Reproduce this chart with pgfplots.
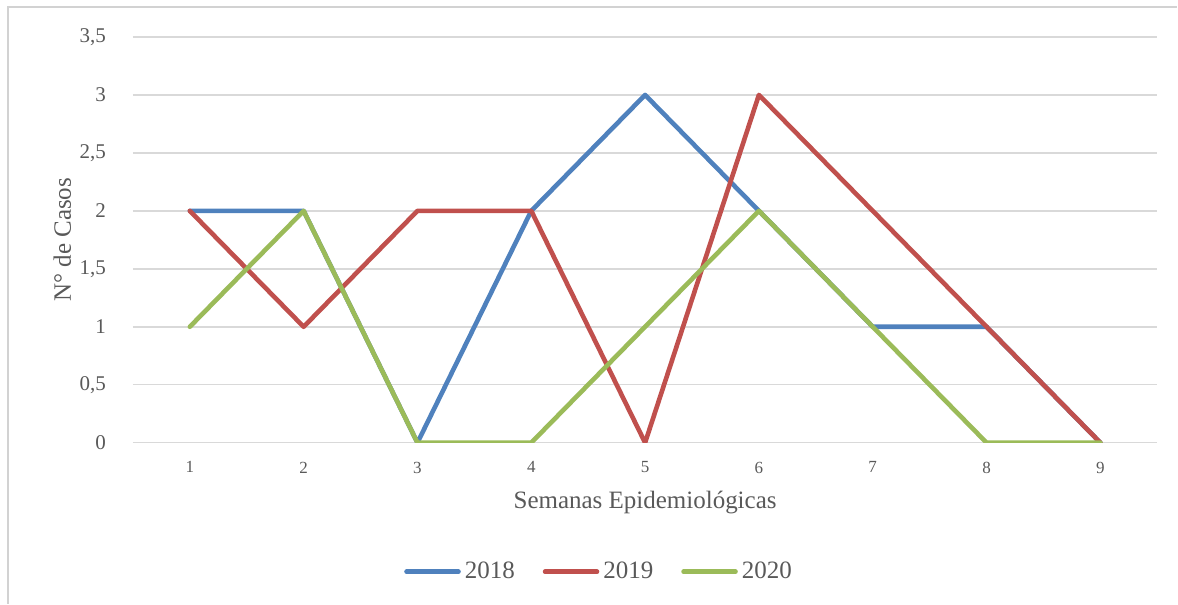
\documentclass[border=0pt]{standalone}
\usepackage{pgfplots}
\pgfplotsset{compat=1.18}
\usetikzlibrary{calc}
\usepackage{fontspec}
\setmainfont{Liberation Serif}
\definecolor{c18}{HTML}{4F81BD}
\definecolor{c19}{HTML}{C0504D}
\definecolor{c20}{HTML}{9BBB59}
\definecolor{gridc}{HTML}{D9D9D9}
\definecolor{txt}{HTML}{595959}
\begin{document}
\begin{tikzpicture}
\begin{axis}[
  scale only axis,
  width=512.5pt, height=203pt,
  xmin=0.5, xmax=9.5, ymin=0, ymax=3.5,
  xtick={1,...,9},
  ytick={0,0.5,...,3.5},
  /pgf/number format/assume math mode=true,
  /pgf/number format/use comma,
  /pgf/number format/fixed,
  ymajorgrids, grid style={gridc, line width=0.75pt},
  axis x line*=bottom, axis y line*=left,
  x axis line style={gridc, line width=0.75pt, -},
  y axis line style={draw=none},
  major tick length=0pt,
  tick style={draw=none},
  xticklabel style={font=\fontsize{8.5}{10}\selectfont, text=txt, yshift=-6pt},
  yticklabel style={font=\fontsize{10.5}{12}\selectfont, text=txt},
  yticklabel shift=10pt,
  xlabel={Semanas Epidemiológicas},
  ylabel={N° de Casos},
  xlabel style={font=\fontsize{12.5}{14}\selectfont, text=txt, yshift=-2pt},
  ylabel style={font=\fontsize{12.5}{14}\selectfont, text=txt, at={(-0.069,0.5)}, anchor=center},
  legend style={at={(0.456,-0.318)}, anchor=center, draw=none, fill=none,
    legend columns=3, font=\fontsize{12.5}{14}\selectfont, text=txt,
    /tikz/every even column/.append style={column sep=12pt}},
  legend image code/.code={\draw[#1, line cap=round] (0pt,0pt) -- (26pt,0pt);},
  every axis plot/.append style={line width=2.3pt, line join=round, line cap=round, mark=none},
]
\addplot[c18] coordinates {(1,2)(2,2)(3,0)(4,2)(5,3)(6,2)(7,1)(8,1)(9,0)};
\addplot[c19] coordinates {(1,2)(2,1)(3,2)(4,2)(5,0)(6,3)(7,2)(8,1)(9,0)};
\addplot[c20] coordinates {(1,1)(2,2)(3,0)(4,0)(5,1)(6,2)(7,1)(8,0)(9,0)};
\legend{2018,2019,2020}
\end{axis}
\pgfresetboundingbox
\path (current axis.south west) ++(-66.5pt,-80.5pt) coordinate (bl);
\path (current axis.north east) ++(10pt,18.5pt) coordinate (tr);
\path (bl) rectangle (tr);
\draw[gray!35, line width=0.75pt] ($(current axis.south west)+(-62.5pt,-80.5pt)$) |- ($(current axis.north east)+(10pt,15pt)$);
\end{tikzpicture}
\end{document}
